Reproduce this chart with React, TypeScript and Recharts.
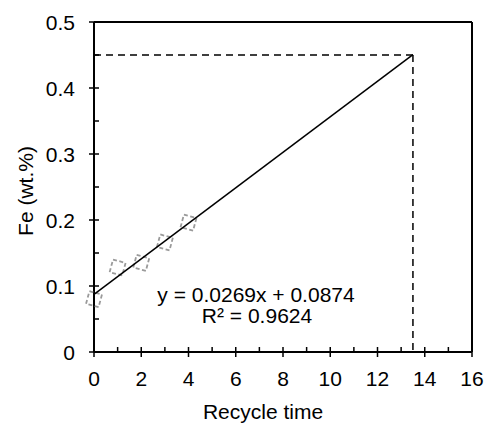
import { ScatterChart, Scatter, XAxis, YAxis, ReferenceLine, Customized } from 'recharts'

const cycles = [0, 1, 2, 3, 4]
const feValues = [0.08, 0.128, 0.135, 0.166, 0.196]
const fitX = [0, 13.5]
const fitY = [0.0874, 0.4506]
const xTicks = [0, 1, 2, 3, 4, 5, 6, 7, 8, 9, 10, 11, 12, 13, 14, 15, 16]
const yTicks = [0, 0.05, 0.1, 0.15, 0.2, 0.25, 0.3, 0.35, 0.4, 0.45, 0.5]
const markX = 13.5
const markY = 0.45

const points = cycles.map((c, i) => ({ x: c, y: feValues[i] }))
const fitLine = fitX.map((x, i) => ({ x, y: fitY[i] }))

const FONT = '"Liberation Sans", Arial, sans-serif'
const FS = 21

function Txt({ x, y, anchor = 'middle', rotate = 0, children }: any) {
  return (
    <text
      transform={`translate(${x} ${y}) rotate(${rotate})`}
      textAnchor={anchor}
      fontSize={FS}
      fontFamily={FONT}
      fill="#000"
    >
      {children}
    </text>
  )
}

function DashedSquare({ cx, cy }: { cx?: number; cy?: number }) {
  if (cx == null || cy == null) return null
  return (
    <rect
      x={cx - 6.5}
      y={cy - 6.5}
      width={13}
      height={13}
      fill="none"
      stroke="#9a9a9a"
      strokeWidth={1.8}
      strokeDasharray="4 2.5"
      transform={`rotate(15 ${cx} ${cy})`}
    />
  )
}

function YTick({ x, y, payload }: any) {
  const v = payload.value
  const major = Math.round(v * 100) % 10 === 0
  return (
    <g>
      <line x1={major ? x - 5 : x} x2={x + 5} y1={y} y2={y} stroke="#000" strokeWidth={1.5} />
      {major && (
        <Txt x={x - 19} y={y + 8} anchor="end">
          {Math.round(v * 10) / 10}
        </Txt>
      )}
    </g>
  )
}

function XTick({ x, y, payload }: any) {
  const v = payload.value
  const major = v % 2 === 0
  return (
    <g>
      <line x1={x} x2={x} y1={y - 5} y2={major ? y + 5 : y} stroke="#000" strokeWidth={1.5} />
      {major && (
        <Txt x={x} y={y + 34}>
          {v}
        </Txt>
      )}
    </g>
  )
}

function Annotations() {
  return (
    <g>
      <Txt x={256} y={302}>y = 0.0269x + 0.0874</Txt>
      <Txt x={257} y={323}>R² = 0.9624</Txt>
      <Txt x={263} y={419}>Recycle time</Txt>
      <Txt x={33} y={191} rotate={-90}>Fe (wt.%)</Txt>
    </g>
  )
}

export default function App() {
  return (
    <div style={{ position: 'absolute', left: 0, top: 0, background: '#fff' }}>
      <ScatterChart width={488} height={423} margin={{ top: 22, right: 16, left: 0, bottom: 0 }}>
        <XAxis
          type="number"
          dataKey="x"
          domain={[0, 16]}
          ticks={xTicks}
          interval={0}
          tick={<XTick />}
          tickSize={0}
          tickMargin={0}
          height={71}
          axisLine={{ stroke: '#000', strokeWidth: 2 }}
        />
        <YAxis
          type="number"
          dataKey="y"
          domain={[0, 0.5]}
          ticks={yTicks}
          interval={0}
          tick={<YTick />}
          tickSize={0}
          tickMargin={0}
          width={94}
          axisLine={{ stroke: '#000', strokeWidth: 2 }}
        />
        <ReferenceLine y={0.5} stroke="#000" strokeWidth={2} />
        <ReferenceLine x={16} stroke="#000" strokeWidth={2} />
        <ReferenceLine
          segment={[{ x: 0, y: markY }, { x: markX, y: markY }]}
          stroke="#000"
          strokeWidth={1.5}
          strokeDasharray="7 5"
        />
        <ReferenceLine
          segment={[{ x: markX, y: markY }, { x: markX, y: 0 }]}
          stroke="#000"
          strokeWidth={1.5}
          strokeDasharray="7 5"
        />
        <Scatter data={points} shape={<DashedSquare />} isAnimationActive={false} />
        <Scatter
          data={fitLine}
          line={{ stroke: '#000', strokeWidth: 1.5 }}
          shape={() => <g />}
          isAnimationActive={false}
        />
        <Customized component={<Annotations />} />
      </ScatterChart>
    </div>
  )
}
